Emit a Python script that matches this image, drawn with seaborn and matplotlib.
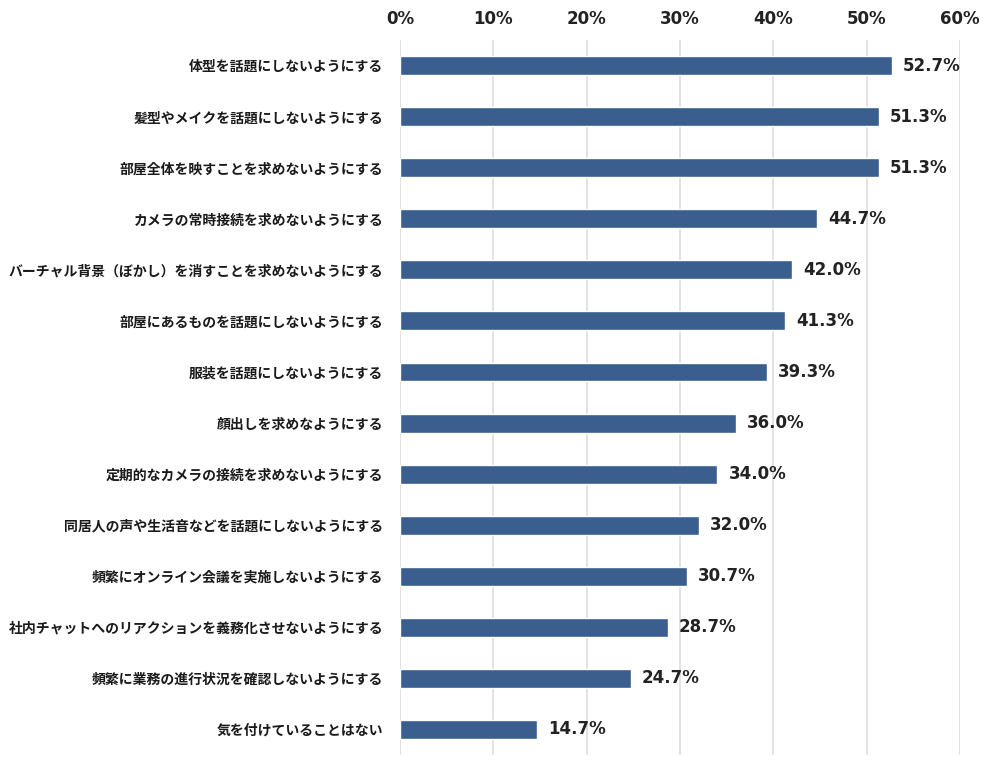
import numpy as np
import pandas as pd
import matplotlib
matplotlib.use("Agg")
import matplotlib.pyplot as plt
import seaborn as sns
from matplotlib.ticker import FuncFormatter

# Data
labels = [
    "体型を話題にしないようにする",
    "髪型やメイクを話題にしないようにする",
    "部屋全体を映すことを求めないようにする",
    "カメラの常時接続を求めないようにする",
    "バーチャル背景（ぼかし）を消すことを求めないようにする",
    "部屋にあるものを話題にしないようにする",
    "服装を話題にしないようにする",
    "顔出しを求めなようにする",
    "定期的なカメラの接続を求めないようにする",
    "同居人の声や生活音などを話題にしないようにする",
    "頻繁にオンライン会議を実施しないようにする",
    "社内チャットへのリアクションを義務化させないようにする",
    "頻繁に業務の進行状況を確認しないようにする",
    "気を付けていることはない",
]
values = [52.7, 51.3, 51.3, 44.7, 42.0, 41.3, 39.3, 36.0, 34.0, 32.0, 30.7, 28.7, 24.7, 14.7]
x_ticks = [0, 10, 20, 30, 40, 50, 60]

df = pd.DataFrame({"item": labels, "pct": values})

sns.set_theme(style="white")
plt.rcParams["font.family"] = ["Noto Sans CJK JP", "DejaVu Sans"]

fig = plt.figure(figsize=(10, 7.63), dpi=100)
ax = fig.add_axes([0.40, 0.0105, 0.56, 0.937])

sns.barplot(data=df, x="pct", y="item", color="#3A5F8F", saturation=1,
            width=0.37, ax=ax, orient="h")

ax.set_xlim(0, 60)
ax.set_ylim(13.5, -0.5)
ax.set_xticks(x_ticks)
ax.xaxis.set_major_formatter(FuncFormatter(lambda v, p: f"{v:.0f}%"))
ax.xaxis.tick_top()
ax.set_xlabel("")
ax.set_ylabel("")
ax.grid(axis="x", color="#DDDDDD", linewidth=1.2)
ax.set_axisbelow(True)
for s in ax.spines.values():
    s.set_visible(False)
ax.tick_params(axis="both", length=0)
ax.tick_params(axis="x", pad=9)
ax.tick_params(axis="y", pad=12)

for t in ax.get_xticklabels():
    t.set_fontfamily("DejaVu Sans")
    t.set_fontweight("bold")
    t.set_fontsize(12)
    t.set_color("#222222")
for t in ax.get_yticklabels():
    t.set_fontfamily(["Noto Sans CJK JP", "DejaVu Sans"])
    t.set_fontweight("bold")
    t.set_fontsize(10)
    t.set_color("#1a1a1a")

for i, v in enumerate(values):
    ax.annotate(f"{v:.1f}%", (v, i), xytext=(8, 0), textcoords="offset points",
                va="center", ha="left", fontsize=12, fontweight="bold",
                family="DejaVu Sans", color="#222222")

plt.savefig("out.png", dpi=100)
plt.close()
